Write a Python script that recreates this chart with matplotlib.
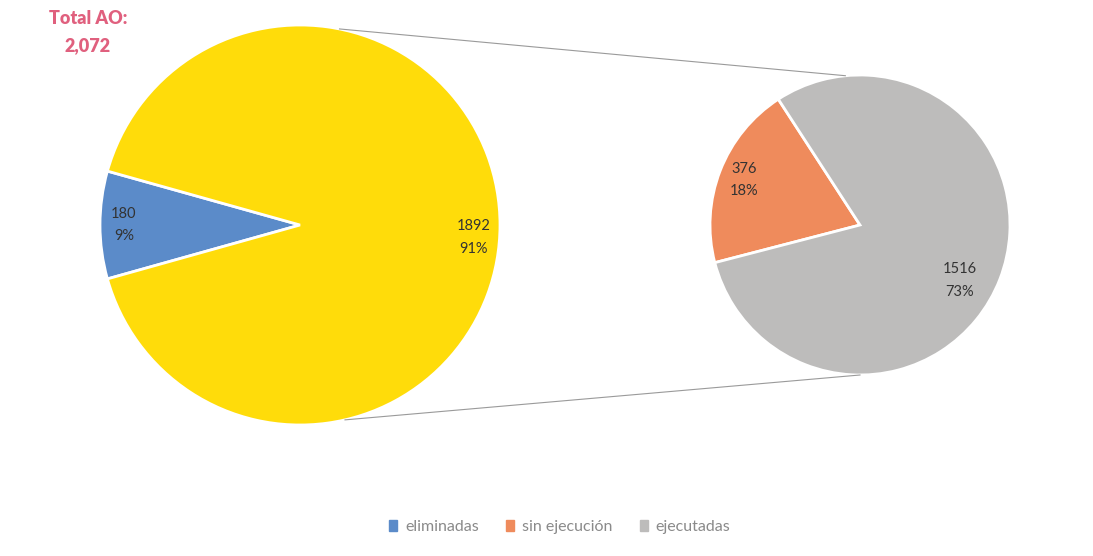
import numpy as np
import matplotlib.pyplot as plt
from matplotlib.patches import Patch

plt.rcParams['font.family'] = ['Lato', 'DejaVu Sans']

# data
total = 2072
main_labels = ['eliminadas', 'resto']
main_values = [180, 1892]
sub_labels = ['sin ejecución', 'ejecutadas']
sub_values = [376, 1516]
legend_labels = ['eliminadas', 'sin ejecución', 'ejecutadas']

blue = '#5b8bc9'
yellow = '#ffdc0a'
orange = '#ef8b5c'
gray = '#bdbcbb'

fig = plt.figure(figsize=(10.93, 5.56), dpi=100)
ax = fig.add_axes([0, 0, 1, 1])

# geometry in pixel units (y measured from bottom)
c1, r1 = (300, 331), 200
c2, r2 = (860, 331), 150

span_blue = 360 * main_values[0] / total
w1, _ = ax.pie(main_values, colors=[blue, yellow], center=c1, radius=r1,
               startangle=180 - span_blue / 2, counterclock=True,
               wedgeprops=dict(edgecolor='white', linewidth=2))
w2, _ = ax.pie(sub_values, colors=[orange, gray], center=c2, radius=r2,
               startangle=123, counterclock=True,
               wedgeprops=dict(edgecolor='white', linewidth=2))

def put_label(wedge, c, r, dist, value, dang=0):
    ang = np.deg2rad((wedge.theta1 + wedge.theta2) / 2 + dang)
    x = c[0] + r * dist * np.cos(ang)
    y = c[1] + r * dist * np.sin(ang)
    pct = round(100 * value / total)
    ax.text(x, y, f"{value}\n{pct}%", ha='center', va='center',
            fontsize=10.5, color='#333333', linespacing=1.8)

put_label(w1[0], c1, r1, 0.88, main_values[0])
put_label(w1[1], c1, r1, 0.87, main_values[1], dang=-4)
put_label(w2[0], c2, r2, 0.83, sub_values[0])
put_label(w2[1], c2, r2, 0.76, sub_values[1], dang=-8)

# connector lines between the two pies
def pt(c, r, deg):
    a = np.deg2rad(deg)
    return c[0] + r * np.cos(a), c[1] + r * np.sin(a)

for a1, a2 in [(78.6, 95.6), (-77, -90)]:
    p1 = pt(c1, r1, a1)
    p2 = pt(c2, r2, a2)
    ax.plot([p1[0], p2[0]], [p1[1], p2[1]], color='#9a9a9a', linewidth=0.8)

ax.text(88, 556 - 18, 'Total AO:', ha='center', va='center', fontsize=13,
        fontweight='heavy', color='#e0607e')
ax.text(88, 556 - 46, '2,072', ha='center', va='center', fontsize=13,
        fontweight='heavy', color='#e0607e')

handles = [Patch(color=blue), Patch(color=orange), Patch(color=gray)]
ax.legend(handles, legend_labels, loc='center', bbox_to_anchor=(560 / 1093, 29 / 556),
          ncol=3, frameon=False, handlelength=0.5, handleheight=0.7,
          handletextpad=0.5, columnspacing=1.7, labelcolor='#8a8a8a', fontsize=11.5)

ax.set_xlim(0, 1093)
ax.set_ylim(0, 556)
ax.set_aspect('equal')
ax.axis('off')

fig.savefig('out.png', dpi=100, facecolor='white')
